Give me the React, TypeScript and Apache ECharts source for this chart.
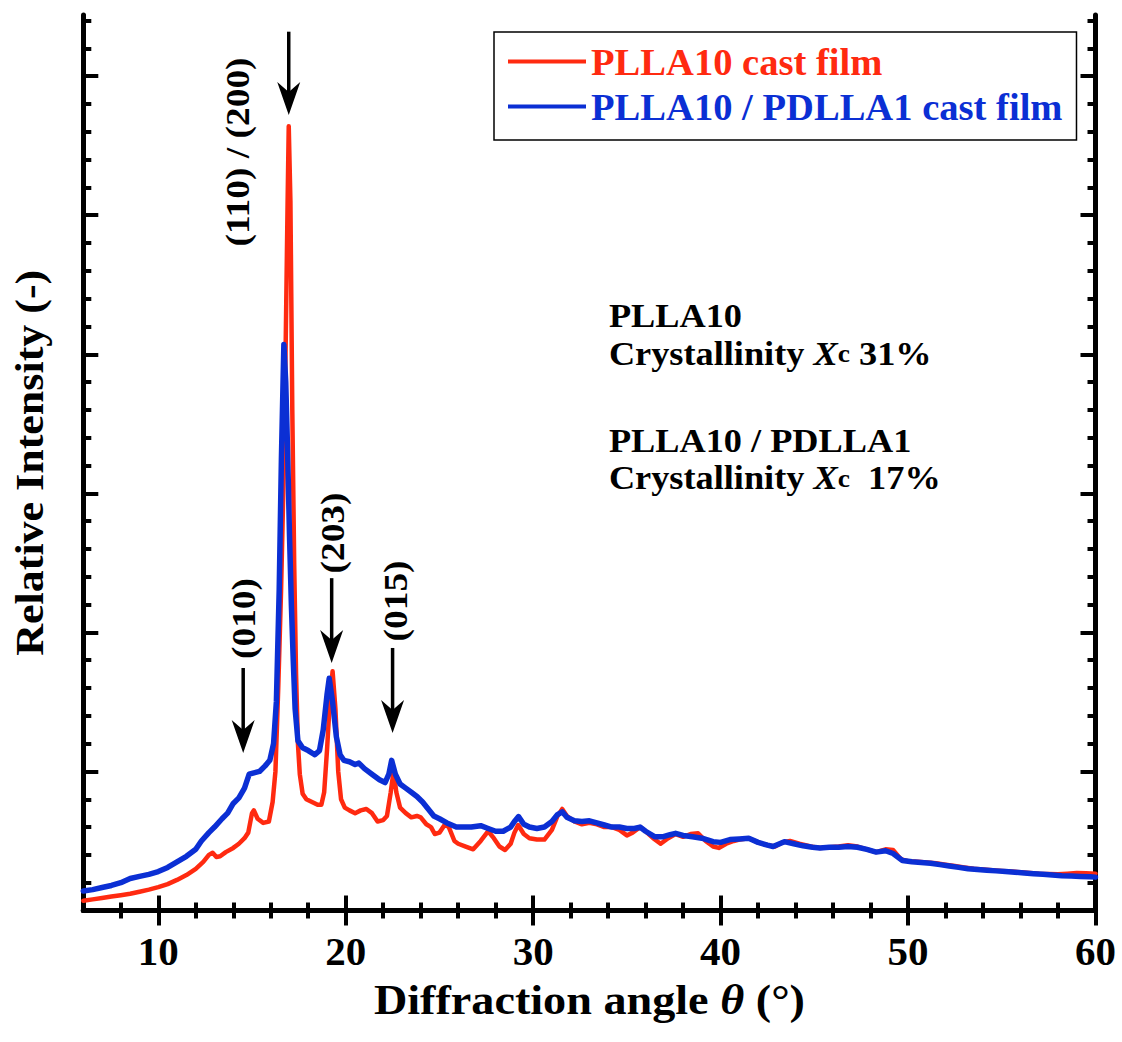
import React, { useEffect, useRef } from "react";
import * as echarts from "echarts";

const FONT = "Liberation Serif, Times New Roman, Times, serif";
const RED = "#FF2A10";
const BLUE = "#0B2FD4";

const xMajorTicks = [10, 20, 30, 40, 50, 60];
const xMinorTicks = [8, 12, 14, 16, 18, 22, 24, 26, 28, 32, 34, 36, 38, 42, 44, 46, 48, 52, 54, 56, 58];
const yMajorTicks = [1, 2, 3, 4, 5, 6];
const yMinorTicks = [0.2, 0.4, 0.6, 0.8, 1.2, 1.4, 1.6, 1.8, 2.2, 2.4, 2.6, 2.8, 3.2, 3.4, 3.6, 3.8, 4.2, 4.4, 4.6, 4.8, 5.2, 5.4, 5.6, 5.8, 6.2, 6.4];

const seriesNames = ["PLLA10 cast film", "PLLA10 / PDLLA1 cast film"];
const xTitle = "{a|Diffraction angle }{t|θ}{a| (°)}";
const yTitle = "Relative Intensity (-)";

const redAngle = [
  6.0, 6.5, 7.0, 7.5, 8.0, 8.5, 9.0, 9.5, 10.0, 10.5, 11.0, 11.5, 12.0, 12.4, 12.7, 12.9, 13.1, 13.3, 13.6, 14.0,
  14.3, 14.6, 14.8, 15.0, 15.1, 15.3, 15.6, 15.9, 16.1, 16.25, 16.4, 16.55, 16.7, 16.8, 16.9, 16.96, 17.05, 17.15, 17.25, 17.35,
  17.45, 17.55, 17.7, 17.9, 18.2, 18.5, 18.7, 18.85, 19.0, 19.15, 19.3, 19.45, 19.6, 19.75, 19.95, 20.2, 20.5, 20.8, 21.1, 21.4,
  21.7, 22.0, 22.2, 22.4, 22.55, 22.7, 22.9, 23.2, 23.5, 23.8, 24.0, 24.3, 24.55, 24.75, 25.0, 25.3, 25.5, 25.8, 26.0, 26.4,
  26.8, 27.2, 27.6, 27.9, 28.2, 28.5, 28.8, 29.0, 29.2, 29.5, 29.8, 30.2, 30.6, 31.0, 31.3, 31.55, 31.8, 32.2, 32.6, 33.0,
  33.4, 33.8, 34.2, 34.6, 35.0, 35.3, 35.7, 36.0, 36.4, 36.8, 37.2, 37.6, 38.0, 38.4, 38.8, 39.2, 39.6, 39.9, 40.3, 40.7,
  41.0, 41.5, 42.0, 42.5, 42.9, 43.3, 43.7, 44.2, 44.8, 45.3, 45.8, 46.3, 46.8, 47.3, 47.8, 48.3, 48.8, 49.2, 49.6, 50.0,
  50.5, 51.0, 51.5, 52.0, 52.5, 53.0, 53.5, 54.0, 54.5, 55.0, 55.5, 56.0, 56.5, 57.0, 57.5, 58.0, 58.5, 59.0, 59.5, 60.0,
];
const redIntensity = [
  0.07, 0.08, 0.09, 0.1, 0.11, 0.12, 0.135, 0.15, 0.168, 0.19, 0.22, 0.255, 0.3, 0.35, 0.4, 0.415, 0.385, 0.39, 0.42, 0.45,
  0.48, 0.52, 0.56, 0.7, 0.72, 0.66, 0.63, 0.64, 0.78, 1.0, 1.6, 2.3, 3.2, 4.1, 5.1, 5.64, 5.1, 3.6, 2.5, 1.7,
  1.2, 0.98, 0.84, 0.8, 0.78, 0.76, 0.76, 0.85, 1.15, 1.5, 1.72, 1.45, 1.0, 0.8, 0.74, 0.72, 0.7, 0.72, 0.73, 0.7,
  0.64, 0.65, 0.68, 0.85, 1.0, 0.85, 0.74, 0.7, 0.67, 0.68, 0.67, 0.62, 0.6, 0.55, 0.56, 0.62, 0.6, 0.5, 0.48, 0.46,
  0.44, 0.5, 0.57, 0.52, 0.46, 0.435, 0.48, 0.56, 0.615, 0.55, 0.52, 0.51, 0.51, 0.58, 0.68, 0.73, 0.68, 0.64, 0.62, 0.63,
  0.62, 0.6, 0.6, 0.58, 0.54, 0.56, 0.6, 0.57, 0.52, 0.48, 0.52, 0.55, 0.53, 0.55, 0.555, 0.5, 0.46, 0.45, 0.48, 0.5,
  0.51, 0.52, 0.49, 0.47, 0.46, 0.49, 0.5, 0.48, 0.46, 0.45, 0.455, 0.46, 0.47, 0.46, 0.44, 0.42, 0.44, 0.435, 0.37, 0.355,
  0.35, 0.345, 0.34, 0.33, 0.32, 0.31, 0.3, 0.295, 0.29, 0.285, 0.28, 0.275, 0.27, 0.265, 0.262, 0.26, 0.265, 0.27, 0.268, 0.265,
];

const blueAngle = [
  6.0, 6.5, 7.0, 7.5, 8.0, 8.5, 9.0, 9.5, 10.0, 10.5, 11.0, 11.5, 12.0, 12.3, 12.7, 13.0, 13.4, 13.7, 14.0, 14.3,
  14.6, 14.85, 15.1, 15.4, 15.7, 15.95, 16.15, 16.3, 16.45, 16.57, 16.7, 16.8, 16.9, 17.0, 17.1, 17.2, 17.3, 17.45, 17.7, 18.0,
  18.35, 18.6, 18.8, 19.0, 19.12, 19.3, 19.5, 19.7, 19.9, 20.2, 20.5, 20.7, 21.0, 21.4, 21.8, 22.1, 22.3, 22.45, 22.65, 22.9,
  23.2, 23.5, 23.8, 24.1, 24.4, 24.7, 25.0, 25.4, 25.9, 26.3, 26.7, 27.2, 27.6, 28.0, 28.4, 28.8, 29.0, 29.22, 29.5, 29.8,
  30.2, 30.6, 31.0, 31.3, 31.55, 31.8, 32.2, 32.6, 33.0, 33.4, 33.8, 34.2, 34.6, 35.0, 35.4, 35.7, 36.0, 36.5, 36.9, 37.3,
  37.6, 38.0, 38.5, 39.0, 39.6, 40.0, 40.5, 41.0, 41.5, 42.0, 42.5, 42.8, 43.4, 43.9, 44.4, 44.9, 45.3, 45.8, 46.3, 46.8,
  47.3, 47.8, 48.3, 48.8, 49.2, 49.7, 50.2, 50.7, 51.2, 51.7, 52.2, 52.7, 53.2, 53.7, 54.2, 54.7, 55.2, 55.7, 56.2, 56.7,
  57.2, 57.7, 58.2, 58.7, 59.2, 59.7, 60.0,
];
const blueIntensity = [
  0.14, 0.15, 0.165, 0.18, 0.2, 0.23, 0.245, 0.26, 0.28, 0.31, 0.35, 0.39, 0.44, 0.5, 0.56, 0.6, 0.66, 0.7, 0.77, 0.81,
  0.88, 0.98, 0.99, 1.0, 1.04, 1.08, 1.2, 1.5, 2.3, 3.26, 4.07, 3.8, 3.3, 2.7, 2.2, 1.8, 1.45, 1.22, 1.17, 1.15,
  1.12, 1.15, 1.3, 1.55, 1.67, 1.5, 1.25, 1.12, 1.08, 1.07, 1.05, 1.06, 1.02, 0.98, 0.94, 0.92, 0.98, 1.08, 0.98, 0.91,
  0.88, 0.85, 0.82, 0.78, 0.73, 0.68, 0.66, 0.63, 0.6, 0.6, 0.6, 0.61, 0.59, 0.57, 0.57, 0.6, 0.64, 0.675, 0.62, 0.6,
  0.59, 0.6, 0.64, 0.69, 0.71, 0.67, 0.645, 0.64, 0.645, 0.63, 0.615, 0.6, 0.6, 0.59, 0.59, 0.6, 0.57, 0.53, 0.53, 0.545,
  0.555, 0.54, 0.53, 0.52, 0.495, 0.49, 0.51, 0.515, 0.52, 0.49, 0.47, 0.46, 0.495, 0.48, 0.465, 0.455, 0.45, 0.455, 0.455, 0.46,
  0.455, 0.44, 0.42, 0.43, 0.41, 0.36, 0.35, 0.345, 0.34, 0.33, 0.32, 0.31, 0.3, 0.295, 0.29, 0.285, 0.28, 0.275, 0.27, 0.265,
  0.26, 0.255, 0.25, 0.248, 0.245, 0.243, 0.24,
];

// Peak annotations, in data coordinates: label centre, arrow top and arrow tip
const peakLabels = ["(110) / (200)", "(010)", "(203)", "(015)"];
const peakLabelPos = [[14.25, 5.455], [14.53, 2.1], [19.32, 2.715], [22.68, 2.226]];
const peakArrowX = [16.96, 14.53, 19.25, 22.5];
const peakArrowTop = [6.32, 1.744, 2.39, 1.888];
const peakArrowTip = [5.72, 1.133, 1.78, 1.277];

// Text block (data coordinates of the left edge of each line)
const infoLines = [
  "PLLA10",
  "{b|Crystallinity }{i|X}{s|c}{b| 31%}",
  "PLLA10 / PDLLA1",
  "{b|Crystallinity }{i|X}{s|c}{b|  17%}",
];
const infoX = 34.04;
const infoY = [4.276, 4.003, 3.373, 3.107];

const AX_MIN = 6;
const AX_MAX = 60;
const AY_MIN = 0;
const AY_MAX = 6.44;

function xAxisDef(position: "bottom" | "top", major: boolean, withLabels: boolean): any {
  return {
    type: "value",
    position,
    min: AX_MIN,
    max: AX_MAX,
    axisLine: { show: !major, lineStyle: { color: "#000", width: 5 } },
    axisTick: {
      show: true,
      inside: true,
      length: major ? 15 : 8,
      customValues: major ? xMajorTicks : xMinorTicks,
      lineStyle: { color: "#000", width: 4 },
    },
    axisLabel: withLabels
      ? {
          show: true,
          customValues: xMajorTicks,
          fontSize: 41,
          fontWeight: "bold",
          fontFamily: FONT,
          color: "#000",
          margin: 20,
        }
      : { show: false },
    splitLine: { show: false },
  };
}

function yAxisDef(position: "left" | "right", major: boolean): any {
  return {
    type: "value",
    position,
    min: AY_MIN,
    max: AY_MAX,
    axisLine: { show: !major, lineStyle: { color: "#000", width: 5 } },
    axisTick: {
      show: true,
      inside: true,
      length: major ? 15 : 8,
      customValues: major ? yMajorTicks : yMinorTicks,
      lineStyle: { color: "#000", width: 4 },
    },
    axisLabel: { show: false },
    splitLine: { show: false },
  };
}

export default function App() {
  const ref = useRef<HTMLDivElement>(null);

  useEffect(() => {
    if (!ref.current) return;
    const chart = echarts.init(ref.current, null, { renderer: "svg" });

    const redData = redAngle.map((a, i) => [a, redIntensity[i]]);
    const blueData = blueAngle.map((a, i) => [a, blueIntensity[i]]);

    const option: any = {
      animation: false,
      backgroundColor: "#fff",
      textStyle: { fontFamily: FONT },
      grid: { left: 83.3, right: 26.5, top: 15, bottom: 131.5, containLabel: false },
      legend: {
        orient: "vertical",
        left: 494,
        top: 32,
        icon: "rect",
        itemWidth: 78,
        itemHeight: 4,
        itemGap: 6,
        padding: [10, 14, 14, 14],
        borderColor: "#000",
        borderWidth: 1.5,
        textStyle: { fontSize: 38.6, fontWeight: "bold", fontFamily: FONT },
        data: [
          { name: seriesNames[0], textStyle: { color: RED } },
          { name: seriesNames[1], textStyle: { color: BLUE } },
        ],
      },
      xAxis: [
        xAxisDef("bottom", false, false),
        xAxisDef("bottom", true, true),
        xAxisDef("top", false, false),
        xAxisDef("top", true, false),
      ],
      yAxis: [yAxisDef("left", false), yAxisDef("left", true), yAxisDef("right", false), yAxisDef("right", true)],
      series: [
        {
          name: seriesNames[0],
          type: "line",
          xAxisIndex: 0,
          yAxisIndex: 0,
          data: redData,
          showSymbol: false,
          symbol: "none",
          lineStyle: { color: RED, width: 4.5, join: "round", cap: "round" },
          itemStyle: { color: RED },
          z: 2,
        },
        {
          name: seriesNames[1],
          type: "line",
          xAxisIndex: 0,
          yAxisIndex: 0,
          data: blueData,
          showSymbol: false,
          symbol: "none",
          lineStyle: { color: BLUE, width: 5.5, join: "round", cap: "round" },
          itemStyle: { color: BLUE },
          z: 3,
        },
      ],
    };

    chart.setOption(option);

    const toPx = (p: number[]) => chart.convertToPixel({ xAxisIndex: 0, yAxisIndex: 0 }, p) as number[];
    const elements: any[] = [];

    // axis titles
    const gridLeft = toPx([AX_MIN, AY_MIN]);
    const gridRight = toPx([AX_MAX, AY_MAX]);
    const midX = (gridLeft[0] + gridRight[0]) / 2;
    const midY = (gridLeft[1] + gridRight[1]) / 2;
    elements.push({
      type: "text",
      x: midX,
      y: gridLeft[1] + 90,
      scaleX: 1.1,
      z: 10,
      style: {
        text: xTitle,
        rich: {
          a: { fontSize: 42, fontWeight: "bold", fontFamily: FONT, fill: "#000", color: "#000" },
          t: { fontSize: 42, fontWeight: "bold", fontStyle: "italic", fontFamily: FONT, fill: "#000", color: "#000" },
        },
        fill: "#000",
        align: "center",
        verticalAlign: "middle",
        textAlign: "center",
        textVerticalAlign: "middle",
      },
    });
    elements.push({
      type: "text",
      x: 30,
      y: midY,
      rotation: Math.PI / 2,
      scaleX: 1.1,
      z: 10,
      style: {
        text: yTitle,
        fontSize: 40,
        fontWeight: "bold",
        fontFamily: FONT,
        fill: "#000",
        align: "center",
        verticalAlign: "middle",
        textAlign: "center",
        textVerticalAlign: "middle",
      },
    });

    peakLabels.forEach((label, i) => {
      const c = toPx(peakLabelPos[i]);
      elements.push({
        type: "text",
        x: c[0],
        y: c[1],
        rotation: Math.PI / 2,
        scaleX: 1.1,
        z: 10,
        style: {
          text: label,
          fontSize: 34,
          fontWeight: "bold",
          fontFamily: FONT,
          fill: "#000",
          align: "center",
          verticalAlign: "middle",
          textAlign: "center",
          textVerticalAlign: "middle",
        },
      });
      const top = toPx([peakArrowX[i], peakArrowTop[i]]);
      const tip = toPx([peakArrowX[i], peakArrowTip[i]]);
      elements.push({
        type: "line",
        z: 10,
        shape: { x1: top[0], y1: top[1], x2: tip[0], y2: tip[1] - 20 },
        style: { stroke: "#000", lineWidth: 3.5 },
      });
      elements.push({
        type: "polygon",
        z: 10,
        shape: {
          points: [
            [tip[0], tip[1]],
            [tip[0] - 11.5, tip[1] - 33],
            [tip[0], tip[1] - 23],
            [tip[0] + 11.5, tip[1] - 33],
          ],
        },
        style: { fill: "#000" },
      });
    });

    const rich = {
      b: { fontSize: 33, fontWeight: "bold", fontFamily: FONT, fill: "#000", color: "#000" },
      i: { fontSize: 33, fontWeight: "bold", fontStyle: "italic", fontFamily: FONT, fill: "#000", color: "#000" },
      s: { fontSize: 25, fontWeight: "bold", fontFamily: FONT, fill: "#000", color: "#000" },
    };
    infoLines.forEach((line, i) => {
      const p = toPx([infoX, infoY[i]]);
      elements.push({
        type: "text",
        x: p[0],
        y: p[1],
        scaleX: 1.1,
        z: 10,
        style: {
          text: line.startsWith("{") ? line : "{b|" + line + "}",
          rich,
          fontSize: 33,
          fontWeight: "bold",
          fontFamily: FONT,
          fill: "#000",
          align: "left",
          verticalAlign: "middle",
          textAlign: "left",
          textVerticalAlign: "middle",
        },
      });
    });

    chart.setOption({ graphic: { elements } });

    return () => {
      chart.dispose();
    };
  }, []);

  return (
    <div
      ref={ref}
      style={{ position: "absolute", left: 0, top: 0, width: 1122, height: 1042, background: "#fff" }}
    />
  );
}
